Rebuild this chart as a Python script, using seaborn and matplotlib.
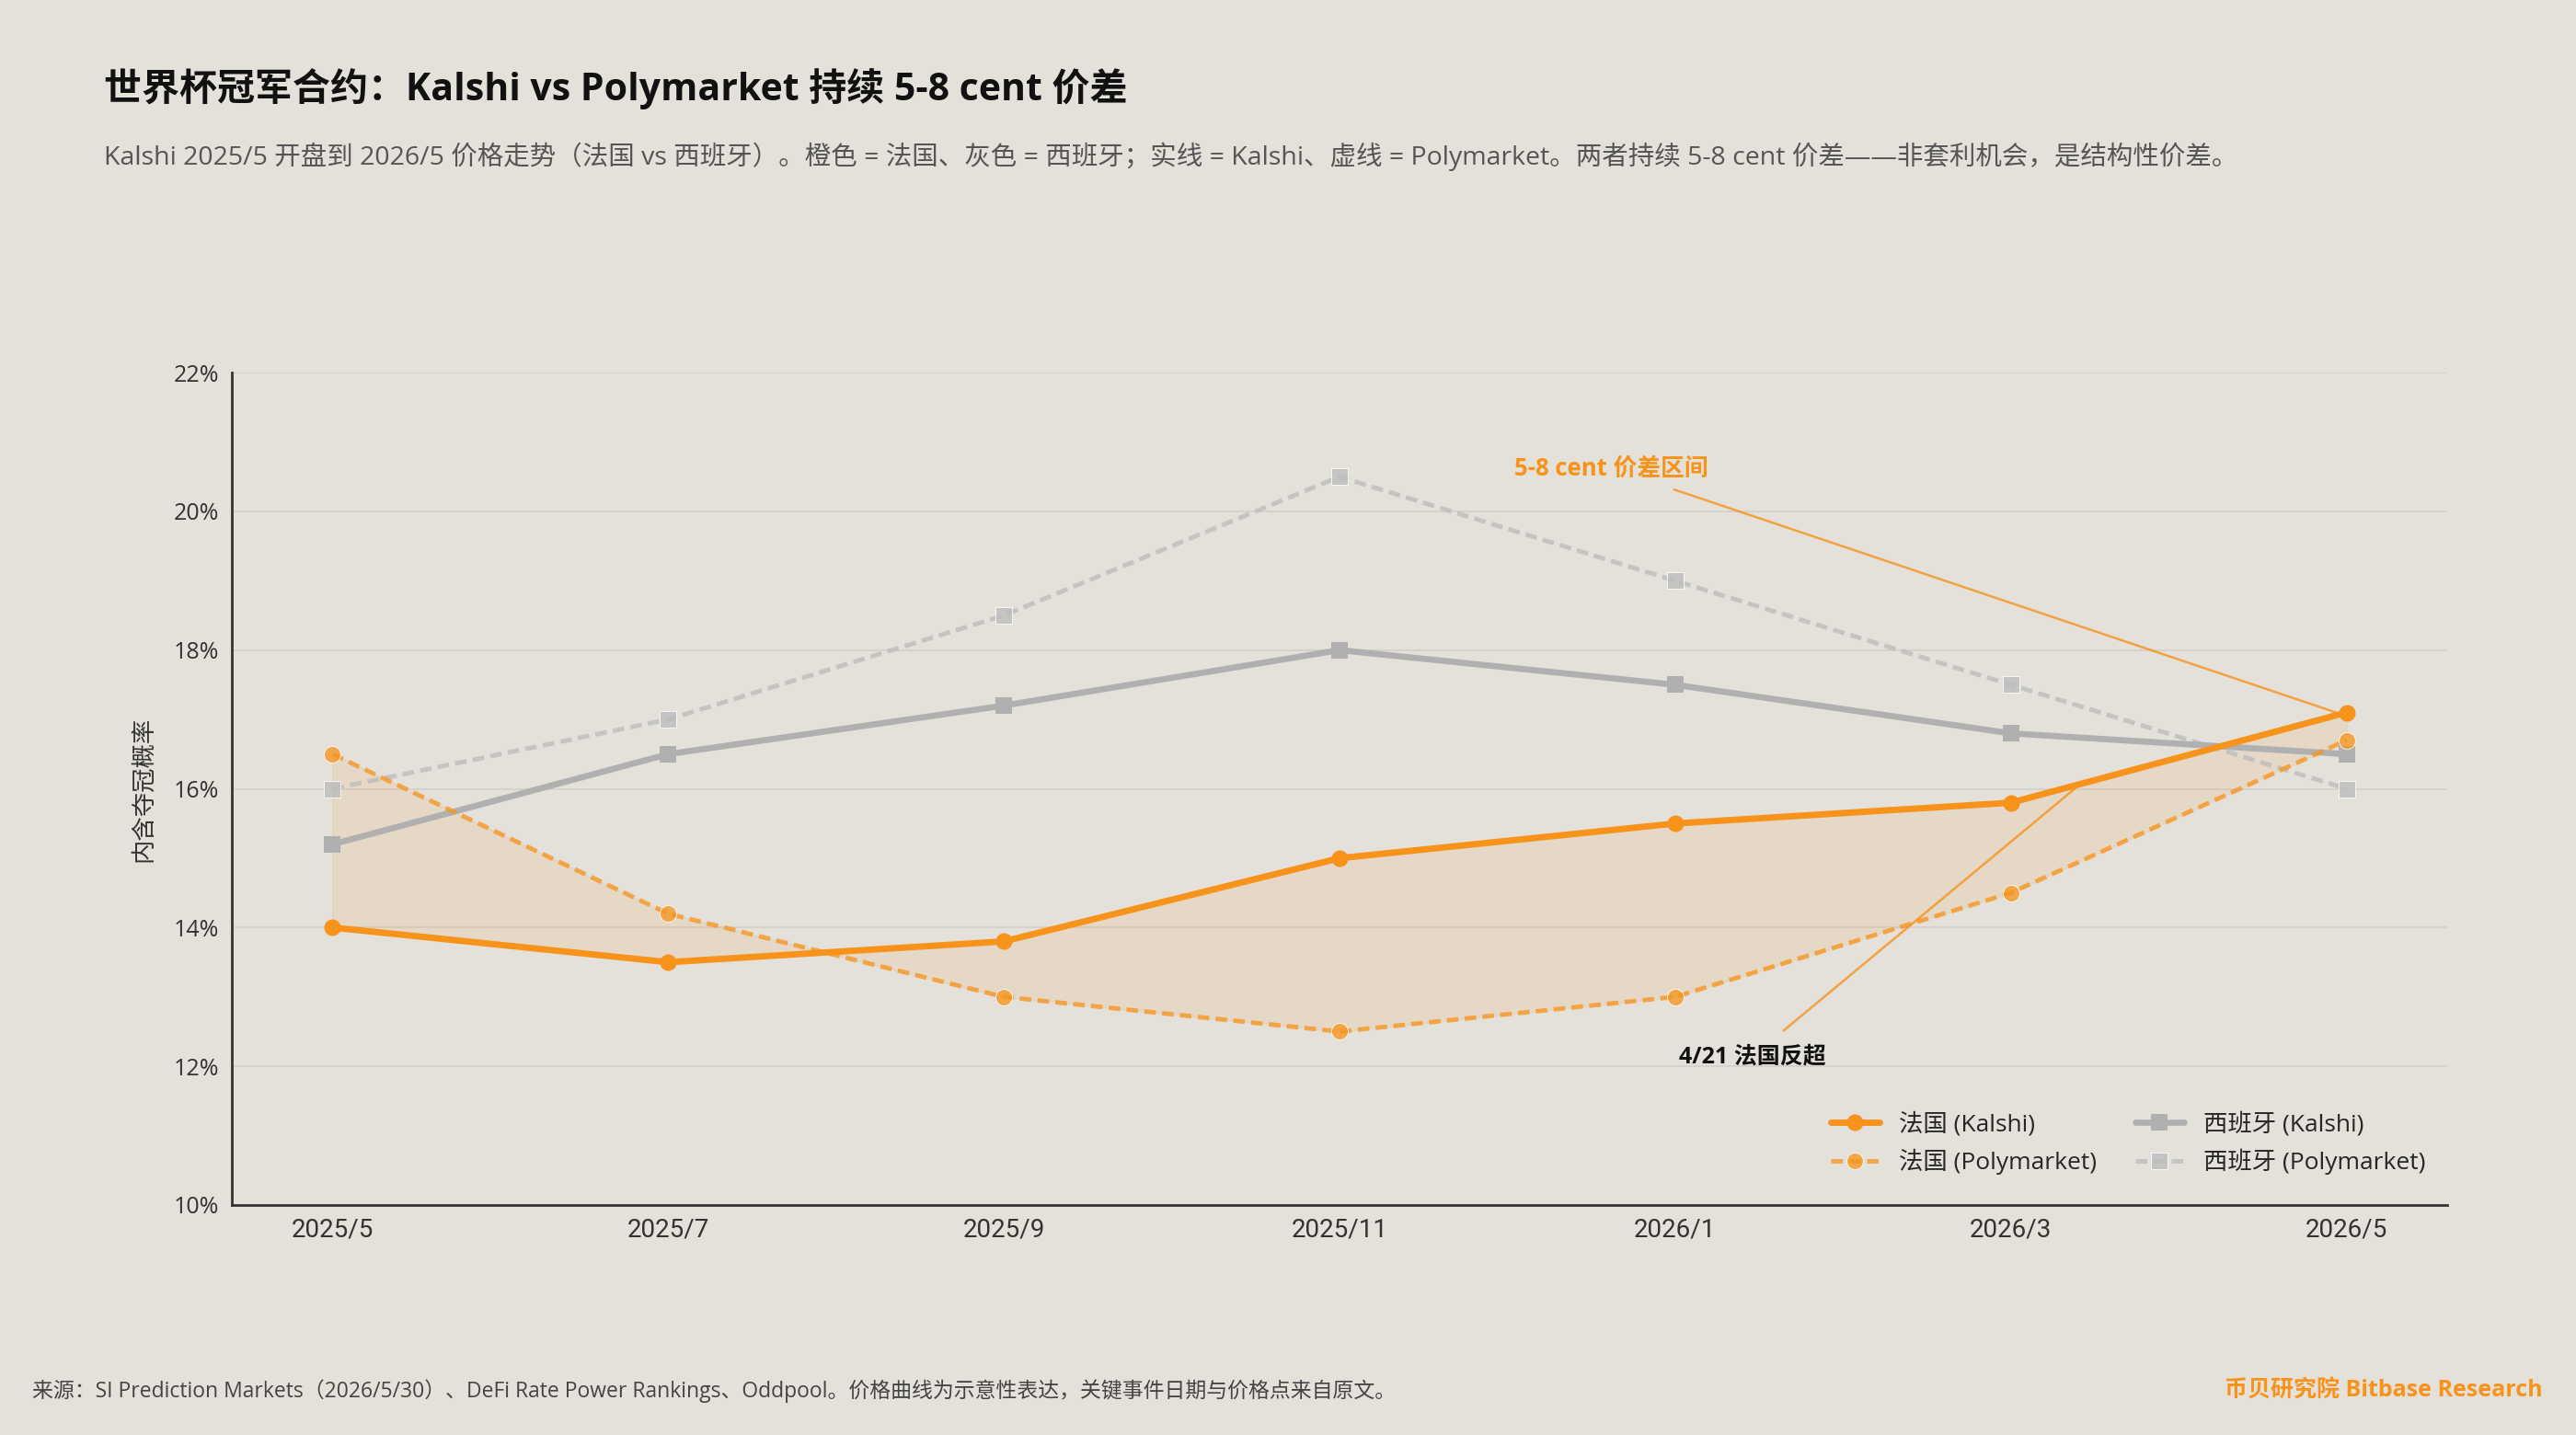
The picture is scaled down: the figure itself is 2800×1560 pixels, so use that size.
import seaborn as sns
import numpy as np
import pandas as pd
import matplotlib.pyplot as plt

# monthly points, 2025/5 -> 2026/5
months = ['2025/5', '2025/7', '2025/9', '2025/11', '2026/1', '2026/3', '2026/5']
fr_kalshi = [14.0, 13.5, 13.8, 15.0, 15.5, 15.8, 17.1]
fr_poly = [16.5, 14.2, 13.0, 12.5, 13.0, 14.5, 16.7]
es_kalshi = [15.2, 16.5, 17.2, 18.0, 17.5, 16.8, 16.5]
es_poly = [16.0, 17.0, 18.5, 20.5, 19.0, 17.5, 16.0]
y_ticks = [10, 12, 14, 16, 18, 20, 22]

bg = '#E4E0DA'
orange = '#F7931A'
gray = '#B0B0B0'
gray_light = '#BDBDBD'

sns.set_theme(style='white')
plt.rcParams['font.family'] = ['Roboto', 'Noto Sans CJK SC', 'DejaVu Sans']
cjk = ['Open Sans', 'Noto Sans CJK SC', 'DejaVu Sans']

fig = plt.figure(figsize=(28, 15.6), dpi=100, facecolor=bg)
ax = fig.add_axes([0.09, 0.1603, 0.86, 0.58])
ax.set_facecolor(bg)

x = np.arange(len(months))

# spread between the two France prices
ax.fill_between(x, fr_kalshi, fr_poly, color=orange, alpha=0.10, linewidth=1.2,
                edgecolor=(0.97, 0.58, 0.10, 0.15), zorder=1)

sns.lineplot(x=x, y=es_poly, ax=ax, color=gray_light, linewidth=3.5, alpha=0.8,
             marker='s', markersize=13, zorder=2,
             label='西班牙 (Polymarket)').lines[-1].set_dashes((2.6, 1.4))
sns.lineplot(x=x, y=es_kalshi, ax=ax, color=gray, linewidth=4.8,
             marker='s', markersize=13, markeredgewidth=0, zorder=3,
             label='西班牙 (Kalshi)')
sns.lineplot(x=x, y=fr_poly, ax=ax, color=orange, linewidth=3.5, alpha=0.75,
             marker='o', markersize=13, zorder=4,
             label='法国 (Polymarket)').lines[-1].set_dashes((2.6, 1.4))
sns.lineplot(x=x, y=fr_kalshi, ax=ax, color=orange, linewidth=5,
             marker='o', markersize=13, markeredgewidth=0, zorder=5,
             label='法国 (Kalshi)')

ax.set_xlim(-0.3, 6.3)
ax.set_ylim(10, 22)
ax.set_xticks(x)
ax.set_xticklabels(months, fontsize=20, color='#333333')
ax.set_yticks(y_ticks)
ax.set_yticklabels([f'{v}%' for v in y_ticks], fontsize=18, color='#333333',
                   family=cjk)
ax.tick_params(length=0, pad=10)
ax.grid(axis='y', color='#D2CEC8', linewidth=1.2)
ax.set_axisbelow(True)
for s in ['top', 'right']:
    ax.spines[s].set_visible(False)
for s in ['left', 'bottom']:
    ax.spines[s].set_color('#333333')
    ax.spines[s].set_linewidth(2)
ax.set_ylabel('内含夺冠概率', fontsize=19, color='#333333', family=cjk, labelpad=14)
ax.set_xlabel('')

# annotations
ax.annotate('5-8 cent 价差区间', xy=(6, 17.05), xytext=(3.81, 20.62),
            ha='center', va='center', fontsize=18.5, fontweight='bold', color=orange,
            family=cjk,
            arrowprops=dict(arrowstyle='-', color=orange, lw=1.8, alpha=0.8,
                            shrinkA=14, shrinkB=0))
ax.annotate('4/21 法国反超', xy=(5.19, 16.0), xytext=(4.23, 12.14),
            ha='center', va='center', fontsize=18, fontweight='bold', color='#111111',
            family=cjk,
            arrowprops=dict(arrowstyle='-', color=orange, lw=1.8, alpha=0.8,
                            shrinkA=14, shrinkB=0))

h, l = ax.get_legend_handles_labels()
order = [3, 2, 1, 0]
leg = ax.legend([h[i] for i in order], [l[i] for i in order], ncol=2,
                loc='lower right', bbox_to_anchor=(1.0, 0.01), frameon=False,
                handlelength=2.0, columnspacing=1.6, labelspacing=0.5,
                prop={'family': cjk, 'size': 19})

fig.text(0.0404, 0.938, '世界杯冠军合约：Kalshi vs Polymarket 持续 5-8 cent 价差',
         fontsize=29.5, fontweight='bold', color='#111111', family=cjk, va='center')
fig.text(0.0404, 0.891,
         'Kalshi 2025/5 开盘到 2026/5 价格走势（法国 vs 西班牙）。橙色 = 法国、灰色 = 西班牙；'
         '实线 = Kalshi、虚线 = Polymarket。两者持续 5-8 cent 价差——非套利机会，是结构性价差。',
         fontsize=20.5, color='#555555', family=cjk, va='center')
fig.text(0.0125, 0.0305,
         '来源：SI Prediction Markets（2026/5/30）、DeFi Rate Power Rankings、Oddpool。'
         '价格曲线为示意性表达，关键事件日期与价格点来自原文。',
         fontsize=16.5, color='#444444', family=cjk, va='center')
fig.text(0.987, 0.0305, '币贝研究院 Bitbase Research', fontsize=18, fontweight='bold',
         color=orange, family=cjk, ha='right', va='center')

fig.savefig('out.png', dpi=100, facecolor=bg)
